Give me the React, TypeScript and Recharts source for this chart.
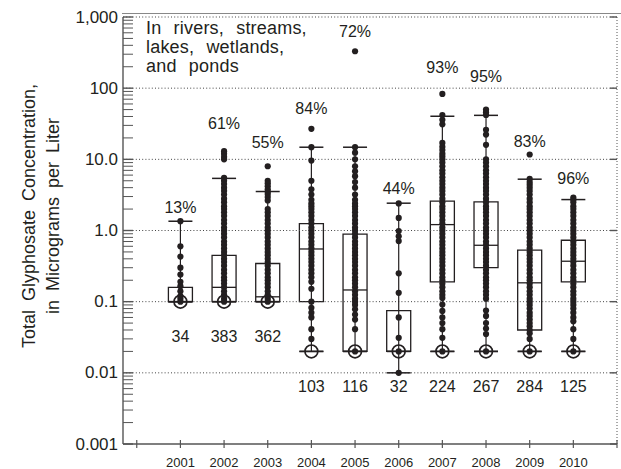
import { ComposedChart, XAxis, YAxis, Scatter, ReferenceArea, ReferenceLine } from "recharts";

// Sampling years and per-year summary values
const years = [2001, 2002, 2003, 2004, 2005, 2006, 2007, 2008, 2009, 2010];
const detectedPct = [13, 61, 55, 84, 72, 44, 93, 95, 83, 96];
const sampleCounts = [34, 383, 362, 103, 116, 32, 224, 267, 284, 125];
const reportingLimit = [0.1, 0.1, 0.1, 0.02, 0.02, 0.02, 0.02, 0.02, 0.02, 0.02];

// Box statistics (µg/L)
const q1 = [0.1, 0.1, 0.1, 0.1, 0.02, 0.02, 0.19, 0.3, 0.04, 0.19];
const median = [0.1, 0.159, 0.117, 0.55, 0.146, 0.02, 1.21, 0.62, 0.184, 0.37];
const q3 = [0.159, 0.446, 0.344, 1.25, 0.89, 0.075, 2.58, 2.53, 0.53, 0.73];
const whiskerLow = [0.1, 0.1, 0.1, 0.02, 0.02, 0.01, 0.02, 0.02, 0.02, 0.02];
const whiskerHigh = [1.35, 5.4, 3.53, 14.8, 14.8, 2.42, 40.3, 41.5, 5.26, 2.72];

// Individual sample concentrations (µg/L)
const samples2001 = [1.35, 0.6, 0.43, 0.3, 0.24, 0.19, 0.165, 0.14, 0.12, 0.11, 0.1];
const samples2002 = [13, 12, 10.8, 10, 5.5, 5, 4.5, 4, 3.6, 3.2, 2.8, 2.5, 2.2, 2, 1.8, 1.6, 1.4, 1.25, 1.1, 1, 0.9, 0.8, 0.7, 0.63, 0.56, 0.5, 0.45, 0.4, 0.36, 0.32, 0.28, 0.25, 0.22, 0.2, 0.18, 0.16, 0.14, 0.125, 0.11, 0.1];
const samples2003 = [8, 5, 4.6, 4.2, 3.8, 3.5, 3.25, 2.95, 2.65, 2, 1.8, 1.6, 1.4, 1.25, 1.1, 1, 0.9, 0.8, 0.7, 0.63, 0.56, 0.5, 0.45, 0.4, 0.36, 0.32, 0.28, 0.25, 0.22, 0.2, 0.18, 0.16, 0.14, 0.125, 0.11, 0.1];
const samples2004 = [26.8, 14.8, 9.6, 5, 3.8, 3.2, 2.7, 2.4, 2.2, 2, 1.8, 1.6, 1.4, 1.25, 1.1, 1, 0.9, 0.8, 0.7, 0.63, 0.56, 0.5, 0.45, 0.4, 0.36, 0.32, 0.28, 0.25, 0.22, 0.19, 0.152, 0.1, 0.082, 0.07, 0.06, 0.041, 0.03];
const samples2005 = [330, 14.8, 12.4, 10, 8, 6.8, 5.8, 4.8, 4, 3.2, 2.7, 2.4, 2.2, 2, 1.8, 1.6, 1.4, 1.25, 1.1, 1, 0.9, 0.8, 0.7, 0.63, 0.56, 0.5, 0.45, 0.4, 0.36, 0.32, 0.28, 0.25, 0.22, 0.2, 0.18, 0.16, 0.14, 0.125, 0.11, 0.1, 0.09, 0.078, 0.066, 0.056, 0.041, 0.02];
const samples2006 = [2.4, 1.5, 0.98, 0.83, 0.71, 0.25, 0.133, 0.06, 0.031, 0.02, 0.01];
const samples2007 = [83, 42, 36, 31, 17, 15, 13.5, 12, 11, 10, 9, 8, 7, 6.3, 5.6, 5, 4.5, 4, 3.6, 3.2, 2.8, 2.5, 2.2, 2, 1.8, 1.6, 1.4, 1.25, 1.1, 1, 0.9, 0.8, 0.7, 0.63, 0.56, 0.5, 0.45, 0.4, 0.36, 0.32, 0.28, 0.25, 0.22, 0.2, 0.18, 0.16, 0.14, 0.125, 0.113, 0.091, 0.074, 0.06, 0.05, 0.041, 0.031, 0.02];
const samples2008 = [50, 46, 42, 26, 22.3, 16, 10, 9, 8, 7, 6.3, 5.6, 5, 4.5, 4, 3.6, 3.2, 2.8, 2.5, 2.2, 2, 1.8, 1.6, 1.4, 1.25, 1.1, 1, 0.9, 0.8, 0.7, 0.63, 0.56, 0.5, 0.45, 0.4, 0.36, 0.32, 0.28, 0.25, 0.22, 0.2, 0.18, 0.16, 0.14, 0.125, 0.11, 0.075, 0.063, 0.05, 0.042, 0.035, 0.02];
const samples2009 = [11.7, 5.3, 4.8, 4.4, 4, 3.6, 3.2, 2.8, 2.5, 2.2, 2, 1.8, 1.6, 1.4, 1.25, 1.1, 1, 0.9, 0.8, 0.7, 0.63, 0.56, 0.5, 0.45, 0.4, 0.36, 0.32, 0.28, 0.25, 0.22, 0.2, 0.18, 0.16, 0.14, 0.125, 0.11, 0.1, 0.09, 0.08, 0.07, 0.063, 0.056, 0.05, 0.045, 0.04, 0.036, 0.03, 0.02];
const samples2010 = [2.9, 2.7, 2.5, 2.2, 2, 1.8, 1.6, 1.4, 1.25, 1.1, 1, 0.9, 0.8, 0.7, 0.63, 0.56, 0.5, 0.45, 0.4, 0.36, 0.32, 0.28, 0.25, 0.22, 0.2, 0.18, 0.16, 0.14, 0.125, 0.11, 0.1, 0.09, 0.08, 0.07, 0.06, 0.053, 0.041, 0.03, 0.02];

// Axis ticks
const yearTicks = [2000, 2001, 2002, 2003, 2004, 2005, 2006, 2007, 2008, 2009, 2010, 2011];
const decadeTicks = [0.001, 0.01, 0.1, 1, 10, 100, 1000];
const decadeLabels = ["0.001", "0.01", "0.1", "1.0", "10.0", "100", "1,000"];

const INK = "#231f20";
const AXIS = "#555";
const FONT = "'Liberation Sans', Arial, Helvetica, sans-serif";
const BOX_HALF = 0.275; // half box width, in years
const TICK_GAP = 5;

// pixel gap between the highest sample and its percent label
const pctLift = [14, 27.5, 24, 20, 20, 15.4, 26.6, 32.8, 12.8, 18.6];

const minorTicks: number[] = [];
decadeTicks.slice(0, -1).forEach((d) => {
  for (let k = 2; k <= 9; k++) minorTicks.push(d * k);
});

const sampleRows = [samples2001, samples2002, samples2003, samples2004, samples2005, samples2006, samples2007, samples2008, samples2009, samples2010];
const sampleDots = years.flatMap((yr, i) => sampleRows[i].map((v) => ({ x: yr, y: v })));
const limitDots = years.map((yr, i) => ({ x: yr, y: reportingLimit[i] }));
const pctDots = years.map((yr, i) => ({ x: yr, y: Math.max(...sampleRows[i]), text: `${detectedPct[i]}%`, lift: pctLift[i] }));
const countDots = years.map((yr, i) => ({ x: yr, y: reportingLimit[i], text: String(sampleCounts[i]) }));

const LeftTick = (p: any) => {
  const { x, y, payload } = p;
  const idx = decadeTicks.indexOf(payload.value);
  const major = idx >= 0;
  return (
    <g>
      <line x1={x + TICK_GAP} x2={x + TICK_GAP + 10} y1={y} y2={y} stroke={AXIS} strokeWidth={major ? 1.4 : 1} />
      {major && (
        <text x={x} y={y} textAnchor="end" dominantBaseline="central" fontSize={17} fill={INK} fontFamily={FONT}>
          {decadeLabels[idx]}
        </text>
      )}
    </g>
  );
};

const RightTick = (p: any) => {
  const { x, y } = p;
  return <line x1={x - 7} x2={x} y1={y} y2={y} stroke={AXIS} strokeWidth={1.4} />;
};

const YearTick = (p: any) => {
  const { x, y, payload } = p;
  const yr = payload.value;
  return (
    <g>
      <line x1={x} x2={x} y1={y - 18} y2={y - 10} stroke={AXIS} strokeWidth={1.2} />
      {yr >= 2001 && yr <= 2010 && (
        <text x={x} y={y} dy="0.71em" textAnchor="middle" fontSize={13} fill={INK} fontFamily={FONT}>
          {yr}
        </text>
      )}
    </g>
  );
};

export default function App() {
  return (
    <div style={{ position: "absolute", left: 0, top: 0, width: 621, height: 469, background: "#fff", fontFamily: FONT, color: INK }}>
      <ComposedChart width={621} height={469} margin={{ top: 17, right: 0, bottom: 0, left: 0 }}>
        <XAxis
          dataKey="x"
          type="number"
          domain={[1999.685, 2011]}
          allowDataOverflow
          ticks={yearTicks}
          interval={0}
          height={25}
          tickSize={0}
          tickMargin={14}
          tickLine={false}
          axisLine={{ stroke: AXIS, strokeWidth: 1.4 }}
          tick={<YearTick />}
        />
        <YAxis
          scale="log"
          type="number"
          domain={[0.001, 1000]}
          allowDataOverflow
          ticks={[...decadeTicks, ...minorTicks]}
          interval={0}
          width={123}
          tickSize={0}
          tickMargin={TICK_GAP}
          tickLine={false}
          axisLine={{ stroke: AXIS, strokeWidth: 1.4 }}
          tick={<LeftTick />}
        />
        <YAxis
          yAxisId="right"
          orientation="right"
          scale="log"
          type="number"
          domain={[0.001, 1000]}
          allowDataOverflow
          ticks={decadeTicks}
          interval={0}
          width={4}
          tickSize={0}
          tickMargin={0}
          tickLine={false}
          axisLine={{ stroke: AXIS, strokeDasharray: "1 2" }}
          tick={<RightTick />}
        />

        {decadeTicks.slice(1).map((d) => (
          <ReferenceLine key={`g${d}`} y={d} stroke="#444" strokeDasharray="1 2.2" />
        ))}

        {years.map((yr, i) => (
          <ReferenceArea
            key={`box${yr}`}
            x1={yr - BOX_HALF}
            x2={yr + BOX_HALF}
            y1={q1[i]}
            y2={q3[i]}
            fill="none"
            fillOpacity={0}
            stroke={INK}
            strokeWidth={1.3}
          />
        ))}
        {years.map((yr, i) => (
          <ReferenceLine
            key={`med${yr}`}
            segment={[{ x: yr - BOX_HALF, y: median[i] }, { x: yr + BOX_HALF, y: median[i] }]}
            stroke={INK}
            strokeWidth={1.3}
          />
        ))}
        {years.map((yr, i) => (
          <ReferenceLine
            key={`wh${yr}`}
            segment={[{ x: yr, y: whiskerLow[i] }, { x: yr, y: whiskerHigh[i] }]}
            stroke={INK}
            strokeWidth={1.2}
          />
        ))}
        {years.map((yr, i) => (
          <ReferenceLine
            key={`capHi${yr}`}
            segment={[{ x: yr - BOX_HALF, y: whiskerHigh[i] }, { x: yr + BOX_HALF, y: whiskerHigh[i] }]}
            stroke={INK}
            strokeWidth={1.5}
          />
        ))}
        {years.map((yr, i) => (
          <ReferenceLine
            key={`capLo${yr}`}
            segment={[{ x: yr - BOX_HALF, y: whiskerLow[i] }, { x: yr + BOX_HALF, y: whiskerLow[i] }]}
            stroke={INK}
            strokeWidth={1.5}
          />
        ))}
        {years.map((yr, i) => (
          <ReferenceLine
            key={`capRl${yr}`}
            segment={[{ x: yr - BOX_HALF, y: reportingLimit[i] }, { x: yr + BOX_HALF, y: reportingLimit[i] }]}
            stroke={INK}
            strokeWidth={1.5}
          />
        ))}

        <Scatter
          data={sampleDots}
          dataKey="y"
          isAnimationActive={false}
          shape={(p: any) => <circle cx={p.cx} cy={p.cy} r={3.1} fill={INK} />}
        />
        <Scatter
          data={limitDots}
          dataKey="y"
          isAnimationActive={false}
          shape={(p: any) => <circle cx={p.cx} cy={p.cy} r={6.4} fill="none" stroke={INK} strokeWidth={1.7} />}
        />
        <Scatter
          data={pctDots}
          dataKey="y"
          isAnimationActive={false}
          shape={(p: any) => (
            <text x={p.cx} y={p.cy - p.payload.lift} textAnchor="middle" dominantBaseline="central" fontSize={16} fill={INK} fontFamily={FONT}>
              {p.payload.text}
            </text>
          )}
        />
        <Scatter
          data={countDots}
          dataKey="y"
          isAnimationActive={false}
          shape={(p: any) => (
            <text x={p.cx} y={p.cy + 35} textAnchor="middle" dominantBaseline="central" fontSize={16} fill={INK} fontFamily={FONT}>
              {p.payload.text}
            </text>
          )}
        />
      </ComposedChart>

      {/* top frame */}
      <div style={{ position: "absolute", left: 122, top: 13, width: 499, height: 0, borderTop: "1.5px solid #888" }} />

      {/* site description */}
      <div style={{ position: "absolute", left: 146, top: 19.3, fontSize: 18, lineHeight: "19px", wordSpacing: 7, letterSpacing: 0.2, whiteSpace: "nowrap" }}>
        In rivers, streams,
        <br />
        lakes, wetlands,
        <br />
        and ponds
      </div>

      {/* y-axis title */}
      <div
        style={{
          position: "absolute",
          left: 40.7,
          top: 216,
          transform: "translate(-50%, -50%) rotate(-90deg)",
          fontSize: 18,
          lineHeight: "24px",
          wordSpacing: 4,
          textAlign: "center",
          whiteSpace: "nowrap",
        }}
      >
        Total Glyphosate Concentration,
        <br />
        in Micrograms per Liter
      </div>
    </div>
  );
}
